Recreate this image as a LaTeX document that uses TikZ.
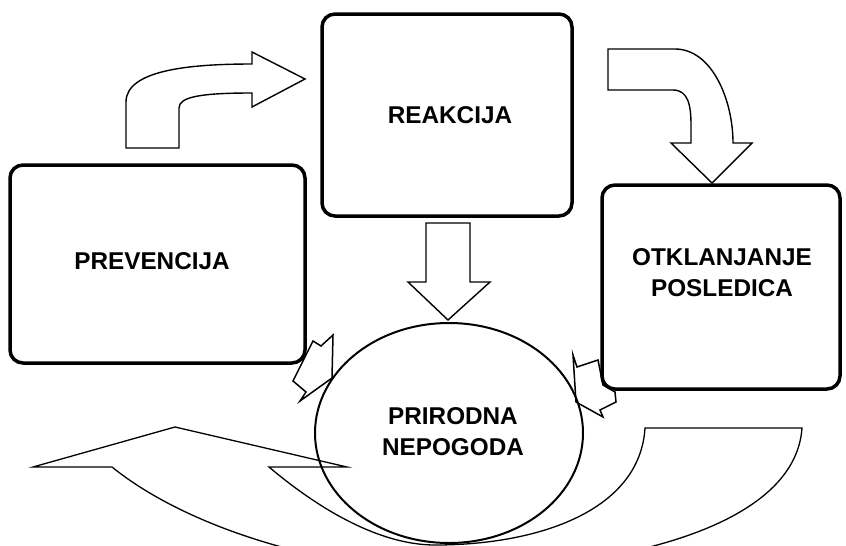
\documentclass[tikz,border=0pt]{standalone}
\usepackage{fontspec}
\setmainfont{Liberation Sans}
\usetikzlibrary{shapes.geometric}
\begin{document}
\begin{tikzpicture}[x=1pt,y=-1pt,
  lbl/.style={font=\fontsize{24.3}{31}\selectfont\bfseries, align=center, inner sep=0pt},
  box/.style={draw=black, line width=3.5pt, rounded corners=13pt, fill=white, inner sep=0pt},
  blockarrow/.style={draw=black, line width=1.4pt, fill=white, line join=miter},
  smallarrow/.style={draw=black, line width=1.5pt, fill=white, line join=miter},
  bigarrow/.style={draw=black, line width=1.3pt}]
\useasboundingbox (0,0) rectangle (846,546);
\clip (0,0) rectangle (846,546);

% small arrows (behind boxes)
\draw[smallarrow] (313,341) -- (321,346) -- (333,335) -- (332,378) -- (300,401) -- (306,392) -- (293,381) -- cycle;
\draw[smallarrow] (573,355) -- (577,367) -- (598,360) -- (603,385) -- (615,392) -- (616,402) -- (600,410) -- (603,417) -- (576,402) -- cycle;

% boxes
\node[box, minimum width=295pt, minimum height=198pt] (prev) at (157.5,264) {};
\node[lbl] (prevtext) at (152,261) {PREVENCIJA};
\node[box, minimum width=250pt, minimum height=202pt] (reak) at (447,115) {};
\node[lbl] (reaktext) at (450,115) {REAKCIJA};
\node[box, minimum width=238pt, minimum height=204pt] (otk) at (721,287) {};
\node[lbl] (otktext) at (722,273) {OTKLANJANJE\\POSLEDICA};

% bent arrow prevencija -> reakcija
\draw[blockarrow] (126,148) -- (126,102) .. controls (126,70) and (190,64) .. (252,64)
  -- (252,52) -- (305,79) -- (252,107) -- (252,93)
  .. controls (200,93) and (179,97) .. (179,108) -- (179,148) -- cycle;

% bent arrow reakcija -> otklanjanje
\draw[blockarrow] (608,49) -- (675,49) .. controls (712,49) and (733,100) .. (733,143)
  -- (752,143) -- (712,183) -- (671,143) -- (691,143) -- (691,125)
  .. controls (691,105) and (688,90) .. (673,90) -- (608,90) -- cycle;

% down arrow reakcija -> prirodna nepogoda
\draw[blockarrow] (426,223) -- (470,223) -- (470,282) -- (490,282) -- (448,320)
  -- (408,282) -- (426,282) -- cycle;

% big curved arrow at the bottom
\draw[bigarrow] (645,428) -- (802,428)
  .. controls (795,530) and (610,570) .. (445,570)
  .. controls (330,570) and (190,530) .. (112,467)
  -- (33,467) -- (175,427) -- (347,467) -- (269,467)
  .. controls (320,510) and (380,545) .. (435,545)
  .. controls (540,545) and (640,510) .. (645,428) -- cycle;

% ellipse
\node[draw=black, line width=2pt, ellipse, minimum width=268pt, minimum height=220pt, inner sep=0pt] (nep) at (449,433) {};
\node[lbl] (neptext) at (453,432) {PRIRODNA\\NEPOGODA};
\end{tikzpicture}
\end{document}
